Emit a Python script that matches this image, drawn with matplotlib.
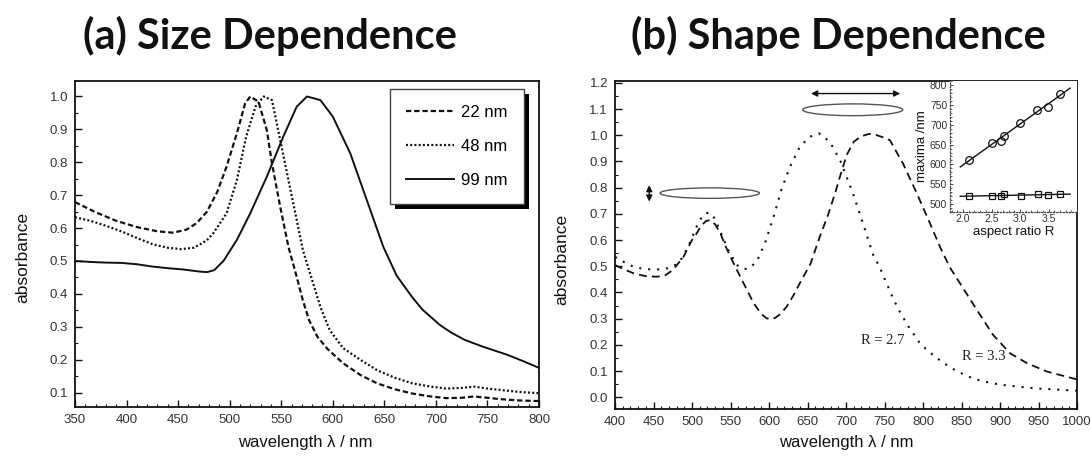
import numpy as np
import matplotlib
matplotlib.use('Agg')
import matplotlib.pyplot as plt
from matplotlib.patches import Ellipse, Rectangle
from matplotlib.ticker import MultipleLocator, FormatStrFormatter

# panel (a): size dependence, spectra
wl_22 = [350, 370, 390, 410, 430, 445, 458, 468, 478, 488, 497, 507, 515, 520, 528, 536, 541,
         549, 557, 565, 571, 577, 585, 595, 610, 627, 643, 660, 677, 695, 710, 725, 737, 750,
         762, 780, 800]
ab_22 = [0.679, 0.648, 0.622, 0.603, 0.590, 0.586, 0.595, 0.615, 0.650, 0.710, 0.787, 0.888,
         0.979, 1.0, 0.984, 0.898, 0.797, 0.665, 0.543, 0.452, 0.38, 0.32, 0.27, 0.232, 0.189,
         0.153, 0.128, 0.110, 0.097, 0.088, 0.083, 0.084, 0.088, 0.084, 0.080, 0.076, 0.074]

wl_48 = [350, 365, 380, 395, 410, 425, 440, 453, 465, 471, 478, 484, 497, 507, 516, 525, 533,
         541, 549, 557, 565, 571, 580, 588, 597, 610, 627, 643, 660, 677, 695, 710, 725, 737,
         750, 765, 780, 800]
ab_48 = [0.633, 0.622, 0.607, 0.590, 0.570, 0.551, 0.540, 0.536, 0.540, 0.550, 0.563, 0.584,
         0.645, 0.746, 0.878, 0.969, 1.0, 0.989, 0.868, 0.746, 0.625, 0.533, 0.442, 0.36, 0.29,
         0.235, 0.199, 0.168, 0.145, 0.128, 0.118, 0.112, 0.114, 0.118, 0.112, 0.107, 0.102, 0.098]

wl_99 = [350, 365, 380, 395, 410, 425, 440, 455, 465, 470, 478, 485, 494, 507, 520, 536, 552,
         565, 575, 588, 600, 617, 633, 649, 662, 677, 687, 704, 715, 728, 745, 769, 785, 800]
ab_99 = [0.500, 0.497, 0.495, 0.494, 0.490, 0.483, 0.478, 0.474, 0.470, 0.468, 0.466, 0.472,
         0.500, 0.564, 0.645, 0.756, 0.878, 0.969, 1.0, 0.989, 0.939, 0.827, 0.685, 0.543, 0.455,
         0.390, 0.352, 0.305, 0.282, 0.260, 0.240, 0.215, 0.195, 0.175]

size_labels = ['22 nm', '48 nm', '99 nm']

# panel (b): shape dependence (nanorods)
wl_r27 = [400, 404, 415, 424, 435, 446, 463, 475, 484, 495, 506, 513, 518, 524, 530, 536, 547,
          558, 566, 573, 584, 595, 606, 616, 627, 640, 653, 665, 679, 693, 709, 722, 735, 744,
          752, 761, 770, 780, 795, 805, 818, 826, 839, 848, 866, 883, 900, 925, 950, 975, 1000]
ab_r27 = [0.535, 0.530, 0.510, 0.498, 0.491, 0.488, 0.488, 0.498, 0.517, 0.574, 0.651, 0.690,
          0.703, 0.703, 0.680, 0.638, 0.562, 0.505, 0.490, 0.490, 0.517, 0.590, 0.689, 0.791,
          0.878, 0.956, 0.994, 1.007, 0.975, 0.900, 0.778, 0.664, 0.545, 0.495, 0.440, 0.378,
          0.325, 0.275, 0.210, 0.180, 0.150, 0.132, 0.108, 0.094, 0.070, 0.058, 0.048, 0.040,
          0.033, 0.029, 0.025]

wl_r33 = [400, 410, 425, 440, 455, 465, 475, 489, 500, 506, 512, 518, 523, 530, 537, 543, 554,
          567, 580, 590, 597, 603, 608, 615, 623, 632, 640, 654, 666, 676, 686, 694, 701, 710,
          720, 730, 740, 750, 757, 774, 792, 809, 822, 835, 848, 870, 891, 913, 935, 961, 1000]
ab_r33 = [0.505, 0.490, 0.472, 0.462, 0.460, 0.465, 0.485, 0.536, 0.600, 0.625, 0.655, 0.672,
          0.676, 0.660, 0.625, 0.580, 0.511, 0.435, 0.359, 0.318, 0.301, 0.298, 0.303, 0.318,
          0.346, 0.390, 0.435, 0.510, 0.613, 0.690, 0.780, 0.860, 0.925, 0.975, 0.996, 1.005,
          1.0, 0.99, 0.981, 0.892, 0.778, 0.664, 0.574, 0.495, 0.435, 0.333, 0.238, 0.168,
          0.130, 0.098, 0.068]

# inset: band maxima vs aspect ratio
ratio_long = [2.11, 2.50, 2.66, 2.71, 3.00, 3.30, 3.49, 3.70]
max_long = [610, 655, 659, 672, 706, 737, 745, 778]
ratio_trans = [2.11, 2.50, 2.66, 2.72, 3.01, 3.31, 3.49, 3.70]
max_trans = [520, 519, 520, 525, 520, 524, 522, 525]

W, H = 1091, 457
fig = plt.figure(figsize=(W / 100, H / 100), dpi=100)
plt.rcParams['font.family'] = ['Liberation Sans', 'DejaVu Sans']

ink = '#111111'
tick_col = '#333333'


def frac(x0, y0, x1, y1):
    return [x0 / W, 1 - y1 / H, (x1 - x0) / W, (y1 - y0) / H]


def style_axes(ax):
    for sp in ax.spines.values():
        sp.set_linewidth(1.3)
        sp.set_color(ink)
    ax.tick_params(which='both', direction='in', top=False, right=False,
                   colors=ink, labelcolor=tick_col, labelsize=9.5)
    ax.tick_params(which='major', length=5, width=1.0)
    ax.tick_params(which='minor', length=2.5, width=0.8)
    ax.tick_params(axis='x', pad=5)
    ax.tick_params(axis='y', pad=5)


# ---- (a) size dependence
ax_a = fig.add_axes(frac(75, 80.7, 539, 407))
ax_a.plot(wl_22, ab_22, color=ink, lw=1.6, dashes=(2.4, 1.3), label=size_labels[0])
ax_a.plot(wl_48, ab_48, color=ink, lw=1.6, dashes=(0.9, 1.0), label=size_labels[1])
ax_a.plot(wl_99, ab_99, color=ink, lw=1.4, label=size_labels[2])
ax_a.set_xlim(350, 800)
ax_a.set_ylim(0.056, 1.048)
ax_a.xaxis.set_major_locator(MultipleLocator(50))
ax_a.xaxis.set_minor_locator(MultipleLocator(10))
ax_a.set_yticks(np.arange(0.1, 1.01, 0.1))
ax_a.yaxis.set_minor_locator(MultipleLocator(0.05))
ax_a.yaxis.set_major_formatter(FormatStrFormatter('%.1f'))
style_axes(ax_a)
ax_a.set_ylabel('absorbance', fontsize=12.5, color=ink)
ax_a.yaxis.set_label_coords(-0.097, 0.457)
ax_a.set_xlabel('wavelength λ / nm', fontsize=12, color=ink, va='center')
ax_a.xaxis.set_label_coords(0.496, -0.108)
leg = ax_a.legend(loc='upper right', bbox_to_anchor=(0.967, 0.975), borderaxespad=0,
                  fontsize=12, handlelength=2.9, handletextpad=0.45, labelspacing=1.15,
                  borderpad=0.95, fancybox=False, framealpha=1)
leg.get_frame().set_edgecolor('#444444')
leg.get_frame().set_linewidth(1.0)

# ---- (b) shape dependence
ax_b = fig.add_axes(frac(615, 80.7, 1077, 409.3))
ax_b.plot(wl_r27, ab_r27, color=ink, lw=1.5, dashes=(1.0, 3.3))
ax_b.plot(wl_r33, ab_r33, color=ink, lw=1.3, dashes=(4.4, 2.8))
ax_b.set_xlim(400, 1000)
ax_b.set_ylim(-0.046, 1.208)
ax_b.xaxis.set_major_locator(MultipleLocator(50))
ax_b.xaxis.set_minor_locator(MultipleLocator(10))
ax_b.set_yticks(np.arange(0.0, 1.21, 0.1))
ax_b.yaxis.set_minor_locator(MultipleLocator(0.05))
ax_b.yaxis.set_major_formatter(FormatStrFormatter('%.1f'))
style_axes(ax_b)
ax_b.set_ylabel('absorbance', fontsize=12.5, color=ink)
ax_b.yaxis.set_label_coords(-0.100, 0.457)
ax_b.set_xlabel('wavelength λ / nm', fontsize=12, color=ink, va='center')
ax_b.xaxis.set_label_coords(0.5, -0.102)

# rods and polarisation arrows
ax_b.add_patch(Ellipse((523, 0.779), 129, 0.040, fill=False, ec='#555555', lw=1.0))
ax_b.add_patch(Ellipse((708.7, 1.097), 130, 0.045, fill=False, ec='#555555', lw=1.0))
ax_b.annotate('', xy=(444.5, 0.736), xytext=(444.5, 0.820),
              arrowprops=dict(arrowstyle='<|-|>', color=ink, lw=1.0, mutation_scale=9))
ax_b.annotate('', xy=(651, 1.159), xytext=(774, 1.159),
              arrowprops=dict(arrowstyle='<|-|>', color=ink, lw=1.0, mutation_scale=9))
ax_b.text(720, 0.218, 'R = 2.7', fontsize=10.5, family=['Liberation Serif', 'DejaVu Serif'],
          color='#222222', va='center', ha='left')
ax_b.text(850, 0.155, 'R = 3.3', fontsize=10.5, family=['Liberation Serif', 'DejaVu Serif'],
          color='#222222', va='center', ha='left')

# ---- inset
ax_in = fig.add_axes(frac(950, 80.7, 1077, 211.7))
ax_in.set_facecolor('white')
ax_in.plot(ratio_long, max_long, ls='none', marker='o', ms=5.5, mfc='none', mec=ink, mew=0.9)
ax_in.plot(ratio_trans, max_trans, ls='none', marker='s', ms=5, mfc='none', mec=ink, mew=0.9)
r_fit = np.array([1.95, 3.88])
p_long = np.polyfit(ratio_long, max_long, 1)
p_trans = np.polyfit(ratio_trans, max_trans, 1)
ax_in.plot(r_fit, np.polyval(p_long, r_fit), color=ink, lw=1.0)
ax_in.plot(r_fit, np.polyval(p_trans, r_fit), color=ink, lw=1.0)
ax_in.set_xlim(1.77, 4.0)
ax_in.set_ylim(480, 812)
ax_in.set_xticks([2.0, 2.5, 3.0, 3.5])
ax_in.xaxis.set_minor_locator(MultipleLocator(0.1))
ax_in.set_yticks(np.arange(500, 801, 50))
ax_in.yaxis.set_minor_locator(MultipleLocator(10))
ax_in.spines['top'].set_visible(False)
ax_in.spines['right'].set_visible(False)
for s in ('left', 'bottom'):
    ax_in.spines[s].set_linestyle((0, (1, 1.5)))
    ax_in.spines[s].set_linewidth(0.9)
    ax_in.spines[s].set_color('#444444')
ax_in.tick_params(which='both', direction='in', labelsize=7.5, colors='#444444',
                  labelcolor=tick_col, pad=2)
ax_in.tick_params(which='major', length=2.5, width=0.7)
ax_in.tick_params(which='minor', length=1.2, width=0.6)
ax_in.set_ylabel('maxima /nm', fontsize=9.5, color=ink, labelpad=1)
ax_in.set_xlabel('aspect ratio R', fontsize=9.5, color=ink, labelpad=1)

# ---- titles
title_font = dict(fontsize=30, fontweight='bold', family=['Lato', 'DejaVu Sans'], color='#111111',
                  ha='center', va='center')
fig.text(270 / W, 1 - 36 / H, '(a) Size Dependence', **title_font)
fig.text(838 / W, 1 - 36 / H, '(b) Shape Dependence', **title_font)

# thick black drop shadow behind the legend box
fig.canvas.draw()
bb = leg.get_window_extent().transformed(ax_a.transAxes.inverted())
dx, dy = 5 / 464, 5 / 326.3
ax_a.add_patch(Rectangle((bb.x0 + dx, bb.y0 - dy), bb.width, bb.height, transform=ax_a.transAxes,
                         facecolor='black', edgecolor='none', zorder=4.9, clip_on=False))

fig.savefig('out.png', dpi=100, facecolor='white')
